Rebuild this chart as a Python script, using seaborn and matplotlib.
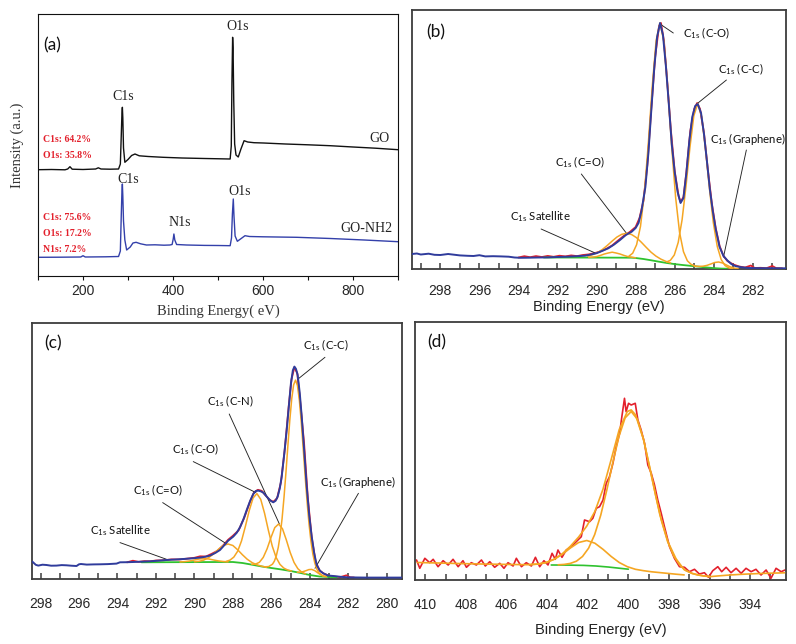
import numpy as np
import pandas as pd
import matplotlib
matplotlib.use("Agg")
import matplotlib.pyplot as plt
from matplotlib.ticker import MultipleLocator
import seaborn as sns

# ---------------- DATA ----------------
# (a) survey spectra
E_go = [100, 130, 160, 166, 171, 176, 200, 228, 234, 240, 260, 279, 283, 285, 286.5, 287.5, 288.5, 290, 293, 300,
        308, 315.5, 325, 345, 378, 420, 470, 527, 529.5, 531, 532.5, 533.5, 535, 537, 540, 545, 551, 558, 566, 580,
        601, 650, 700, 749, 800, 850, 900]
I_go = [106.3, 106.5, 106.2, 107.0, 109.3, 106.8, 106.5, 107.0, 108.2, 107.0, 106.8, 107.0, 112, 140, 162, 168.7,
        158, 128, 113.7, 116.5, 120.5, 122.0, 120.2, 119.5, 118.7, 118.0, 117.5, 117.0, 130, 195, 238.7, 228, 175,
        132, 121, 119, 127, 135.3, 134.0, 133.3, 133.0, 132.0, 131.2, 130.3, 129.0, 127.8, 126.3]
E_nh2 = [100, 150, 195, 200, 205, 250, 279, 283, 285, 286.5, 287.5, 288.5, 290, 293, 297, 305, 311, 318, 328, 341,
         360, 380, 393, 398, 400.5, 402, 404, 408, 430, 470, 500, 527, 530, 532, 534, 535.5, 538, 543, 550, 560,
         570, 600, 675, 750, 825, 900]
I_nh2 = [18.7, 18.8, 19.0, 20.3, 19.0, 19.2, 19.5, 25, 60, 84, 92, 80, 55, 36, 26, 29, 33, 33.7, 32.2, 31.0,
         31.2, 30.8, 31.0, 31.5, 37, 42, 36, 31.5, 31.0, 30.6, 30.5, 30.3, 38, 62, 77, 60, 40, 34.7, 37.0, 40.3,
         39.5, 39.2, 38.7, 37.5, 36.0, 34.3]
pct_go = ["C1s: 64.2%", "O1s: 35.8%"]
pct_nh2 = ["C1s: 75.6%", "O1s: 17.2%", "N1s: 7.2%"]

# (b) GO C1s
E_b_env = [299.45, 299.2, 299.0, 298.6, 298.3, 298.0, 297.6, 297.3, 297.0, 296.6, 296.3, 296.0, 295.7, 295.3, 294.9,
           294.5, 294.2, 293.9, 293.5, 293.0, 292.5, 292.0, 291.5, 291.0, 290.6, 290.3, 290.0, 289.7, 289.4, 289.1,
           288.8, 288.5, 288.2, 288.0, 287.85, 287.7, 287.5, 287.35, 287.2, 287.05, 286.9, 286.75, 286.6, 286.45,
           286.3, 286.15, 286.0, 285.85, 285.7, 285.55, 285.4, 285.25, 285.1, 284.95, 284.82, 284.65, 284.5, 284.35,
           284.2, 284.05, 283.9, 283.7, 283.5, 283.3, 283.1, 282.9, 282.6, 282.2, 281.5, 280.3]
I_b_env = [15, 15.5, 14.5, 15.3, 14.2, 14.0, 15.0, 14.3, 13.6, 13.2, 13.0, 13.8, 12.6, 12.8, 12.6,
           12.3, 11.5, 11.2, 11.3, 11.5, 11.6, 12.0, 12.3, 12.8, 13.3, 14.4, 15.8, 18.2, 20.7, 24.5,
           29.0, 34.0, 37.3, 41.0, 46, 58, 82, 115, 158, 200, 232, 246, 234, 203,
           165, 125, 97, 77, 66, 71, 96, 128, 152, 163, 165, 156, 135, 108,
           80, 58, 40, 22, 13, 8.5, 5, 3, 1.8, 1.0, 0.8, 0.7]
E_b_raw = [294.0, 293.7, 293.4, 293.1, 292.8, 292.5, 292.2, 291.9, 291.6, 291.3, 291.0, 290.7, 290.4, 290.1, 289.8,
           289.5, 289.2, 288.9, 288.6, 288.3, 288.0, 287.8, 287.6, 287.4, 287.2, 287.0, 286.8, 286.7, 286.55, 286.4,
           286.2, 286.0, 285.8, 285.7, 285.55, 285.4, 285.2, 285.0, 284.85, 284.7, 284.5, 284.3, 284.1, 283.9, 283.7,
           283.5, 283.3, 283.0, 282.7, 282.4, 282.1, 281.9, 281.6, 281.3, 281.0, 280.8, 280.5]
I_b_raw = [11.5, 12.8, 11.8, 12.9, 12.0, 13.1, 12.2, 13.3, 12.6, 13.6, 12.9, 14.0, 14.6, 15.9, 17.5,
           20.2, 23.6, 28.5, 33.2, 37.0, 42.0, 51, 68, 104, 160, 212, 243, 246, 228, 192,
           140, 98, 73, 67, 72, 97, 138, 160, 166, 160, 136, 99, 66, 41, 23,
           13, 8, 4.5, 2.5, 1.5, 3.5, 1.0, 1.2, 0.8, 3.0, 0.8, 0.7]
E_b_bg = [292.7, 290.0, 288.2, 288.0, 287.6, 287.2, 286.8, 286.4, 286.0, 285.6, 285.2, 284.8, 284.4, 284.0, 283.6, 283.3]
I_b_bg = [11.5, 11.4, 11.3, 11.0, 10.0, 8.7, 7.3, 6.0, 4.9, 4.0, 3.2, 2.4, 1.6, 0.9, 0.4, 0.3]
E_b_sat = [290.4, 290.2, 290.0, 289.8, 289.6, 289.4, 289.2, 289.0, 288.8, 288.6, 288.4, 288.2, 288.0]
I_b_sat = [11.6, 11.9, 12.4, 13.6, 15.0, 16.0, 16.8, 16.0, 15.0, 13.6, 12.4, 11.8, 11.2]
E_b_co2 = [290.46, 290.21, 289.96, 289.71, 289.46, 289.21, 288.96, 288.71, 288.46, 288.21, 287.96, 287.71, 287.46,
           287.21, 286.96, 286.71, 286.46, 286.21]
I_b_co2 = [12.9, 14.3, 16.3, 19.4, 23.4, 27.8, 31.9, 34.7, 35.7, 34.5, 31.4, 26.8, 21.7, 16.8, 12.9, 9.9, 7.7, 6.1]
E_b_co = [288.35, 288.15, 287.95, 287.75, 287.55, 287.35, 287.15, 286.95, 286.75, 286.55, 286.35, 286.15, 285.95,
          285.75, 285.55, 285.35, 285.15, 284.95]
I_b_co = [12.7, 15.8, 24.3, 42.7, 76.2, 125.5, 182.0, 228.4, 246.1, 227.1, 179.4, 121.6, 71.2, 36.6, 17.3, 8.2, 4.5, 3.1]
E_b_cc = [286.42, 286.22, 286.02, 285.82, 285.62, 285.42, 285.22, 285.02, 284.82, 284.62, 284.42, 284.22, 284.02,
          283.82, 283.62, 283.42, 283.22, 283.02]
I_b_cc = [7.0, 8.7, 14.0, 26.5, 49.3, 83.0, 121.5, 153.2, 165.4, 152.4, 119.9, 80.6, 46.2, 22.6, 9.5, 3.4, 1.0, 0.3]
E_b_gr = [285.0, 284.75, 284.55, 284.35, 284.15, 283.95, 283.75, 283.55, 283.35, 283.15, 282.95, 282.75]
I_b_gr = [2.85, 2.6, 2.8, 3.6, 5.0, 6.5, 7.0, 6.0, 4.0, 2.1, 0.9, 0.3]

# (c) GO-NH2 C1s
E_c_env = [298.43, 298.25, 298.12, 297.9, 297.69, 297.45, 297.17, 296.9, 296.65, 296.4, 296.13, 296.0, 295.9, 295.6,
           295.25, 294.9, 294.5, 294.05, 293.87, 293.5, 293.18, 292.75, 292.31, 291.9, 291.45, 291.0, 290.58, 290.1,
           289.71, 289.45, 289.19, 288.9, 288.67, 288.45, 288.24, 287.98, 287.8, 287.63, 287.45, 287.28, 287.1,
           286.94, 286.8, 286.68, 286.55, 286.42, 286.3, 286.16, 286.03, 285.9, 285.78, 285.67, 285.56, 285.46,
           285.33, 285.2, 285.08, 284.98, 284.88, 284.8, 284.72, 284.63, 284.52, 284.42, 284.3, 284.16, 284.03,
           283.9, 283.77, 283.64, 283.47, 283.3, 283.05, 282.78, 282.4, 282.08, 281.5, 281.04, 280.0, 279.22]
I_c_env = [17.7, 14.5, 13.7, 14.6, 14.3, 13.6, 13.7, 14.2, 14.0, 13.6, 13.3, 15.0, 15.3, 14.7,
           14.9, 15.0, 15.2, 15.7, 17.0, 17.1, 17.3, 17.6, 18.0, 18.6, 19.3, 19.8, 20.3, 21.0,
           21.7, 22.5, 23.7, 26.5, 29.3, 34.0, 38.7, 42.7, 46.5, 52, 60, 69.3, 78.5,
           85.3, 88.3, 88.7, 88.0, 86.7, 84, 81, 78.5, 77, 78.5, 82.7, 91, 102.7,
           125, 149.3, 175, 196, 209, 212.7, 210.5, 204.3, 186, 162.7, 131, 92.7, 64,
           42.7, 26, 14.3, 8.5, 6.0, 3.8, 3.3, 2.5, 2.0, 1.8, 1.7, 1.7, 1.7]
E_c_raw = [293.5, 293.2, 292.9, 292.6, 292.3, 292.0, 291.6, 291.2, 290.8, 290.4, 290.0, 289.7, 289.4, 289.1, 288.8,
           288.5, 288.25, 288.0, 287.7, 287.4, 287.1, 286.9, 286.7, 286.5, 286.3, 286.1, 285.9, 285.7, 285.5, 285.3,
           285.1, 284.95, 284.8, 284.65, 284.5, 284.3, 284.1, 283.9, 283.7, 283.5, 283.3, 283.0, 282.7, 282.4, 282.1,
           281.9, 281.7]
I_c_raw = [17.0, 18.6, 17.4, 18.2, 18.0, 18.8, 19.0, 19.9, 19.8, 20.6, 21.5, 23.0, 22.8, 25.5, 28.5,
           34.0, 39.5, 43.5, 49.0, 62, 78, 87, 89.5, 88.5, 84, 79.5, 77.5, 81, 97, 130,
           172, 200, 212, 206, 178, 137, 81, 42, 18, 9, 6, 3.5, 2.7, 2.2, 4.0,
           1.9, 1.8]
E_c_bg = [292.75, 290.0, 288.0, 287.5, 287.0, 286.5, 286.0, 285.5, 285.0, 284.5, 284.0, 283.5, 283.0, 282.6]
I_c_bg = [17.0, 17.2, 17.3, 16.3, 14.6, 12.8, 11.3, 9.9, 8.3, 6.4, 4.3, 2.8, 2.3, 2.0]
E_c_sat = [290.75, 290.5, 290.25, 290.0, 289.75, 289.5, 289.25, 289.0, 288.75, 288.5, 288.25]
I_c_sat = [17.35, 17.7, 18.3, 19.3, 20.3, 20.7, 20.3, 19.3, 18.4, 17.8, 17.45]
E_c_co2 = [290.0, 289.75, 289.5, 289.25, 289.0, 288.75, 288.5, 288.25, 288.0, 287.75, 287.5, 287.25, 287.0, 286.75,
           286.5, 286.25]
I_c_co2 = [17.5, 18.0, 19.3, 21.8, 25.5, 30.0, 33.8, 35.3, 33.8, 29.5, 24.5, 20.0, 16.7, 14.5, 13.1, 12.1]
E_c_co = [288.35, 288.15, 287.95, 287.75, 287.55, 287.35, 287.15, 286.95, 286.75, 286.55, 286.35, 286.15, 285.95,
          285.75, 285.55, 285.35, 285.15, 284.95]
I_c_co = [17.9, 19.2, 22.2, 28.1, 38.4, 52.9, 68.6, 81.3, 85.7, 79.9, 65.9, 48.7, 33.1, 21.8, 14.9, 11.2, 9.3, 8.3]
E_c_cn = [287.02, 286.82, 286.62, 286.42, 286.22, 286.02, 285.82, 285.62, 285.42, 285.22, 285.02, 284.82, 284.62,
          284.42, 284.22]
I_c_cn = [15.0, 15.2, 17.0, 21.9, 30.5, 41.7, 51.7, 55.3, 50.5, 39.4, 26.9, 16.9, 10.6, 7.2, 5.4]
E_c_cc = [286.34, 286.14, 285.94, 285.84, 285.74, 285.64, 285.54, 285.44, 285.34, 285.24, 285.14, 285.04, 284.94,
          284.84, 284.74, 284.64, 284.54, 284.44, 284.34, 284.24, 284.14, 284.04, 283.94, 283.84, 283.74, 283.64,
          283.54, 283.34, 283.14]
I_c_cc = [12.5, 12.7, 15.1, 18.2, 23.5, 31.8, 44.1, 60.8, 82.0, 106.7, 133.3, 158.9, 180.3,
          194.5, 199.2, 193.7, 178.7, 156.6, 130.2, 102.8, 77.3, 55.4, 38.1, 25.2, 16.3, 10.4,
          6.8, 3.56, 2.6]
E_c_gr = [284.65, 284.5, 284.35, 284.2, 284.05, 283.9, 283.75, 283.6, 283.45, 283.3, 283.15]
I_c_gr = [7.06, 7.1, 7.65, 8.6, 9.7, 9.9, 8.75, 6.65, 4.75, 3.35, 2.66]

# (d) GO-NH2 N1s
E_d_raw = [410.44, 410.28, 410.03, 409.79, 409.62, 409.38, 409.13, 408.88, 408.64, 408.39, 408.15, 407.98, 407.74,
           407.49, 407.24, 407.05, 406.83, 406.59, 406.34, 406.13, 405.93, 405.68, 405.52, 405.27, 405.03, 404.78,
           404.58, 404.37, 404.16, 403.96, 403.76, 403.6, 403.47, 403.27, 403.06, 402.81, 402.57, 402.32, 402.16,
           401.91, 401.75, 401.58, 401.42, 401.25, 401.09, 400.93, 400.76, 400.6, 400.43, 400.32, 400.19, 400.11,
           399.99, 399.86, 399.66, 399.53, 399.37, 399.2, 399.04, 398.87, 398.71, 398.55, 398.38, 398.22, 397.97,
           397.73, 397.48, 397.23, 396.99, 396.74, 396.5, 396.25, 396.05, 395.84, 395.59, 395.4, 395.18, 394.94,
           394.69, 394.44, 394.2, 393.95, 393.71, 393.46, 393.21, 392.97, 392.72, 392.47, 392.28]
I_d_raw = [20, 11.7, 21.7, 17.3, 20.7, 13.3, 19.3, 15, 20.7, 13.3, 19.3, 12.7, 17.3,
           15, 20, 14, 18.3, 12.7, 16.7, 11.7, 17.3, 14, 21.7, 13.3, 17.3, 14,
           22.7, 13.3, 19.3, 15, 26.7, 20.7, 30, 22.7, 30, 33.3, 38.3, 43.3, 60,
           58.3, 61.7, 71.7, 73.3, 80, 96.7, 103.3, 116.7, 133.3, 146.7, 163.3, 181.7, 168.3,
           176.7, 175, 176.7, 160, 150, 136.7, 115, 106.7, 95, 80, 66.7, 53.3, 33.3,
           21.7, 13.3, 12.7, 8.3, 10.7, 6, 7.3, 2.7, 9.3, 13.3, 8.3, 12.7, 7.3,
           11.7, 6.7, 11.7, 8.3, 10.7, 5, 10, 1.7, 11.7, 8.3, 10]
E_d_env = [410.4, 409.0, 408.0, 407.0, 406.0, 405.0, 404.45, 404.05, 403.65, 403.25, 402.85, 402.45, 402.05, 401.65,
           401.25, 400.85, 400.45, 400.05, 399.86, 399.65, 399.25, 398.85, 398.45, 398.05, 397.65, 397.25, 396.86,
           396.56, 396.26, 395.96, 395.5, 395.0, 394.5, 394.0, 393.5, 393.0, 392.3]
I_d_env = [17.5, 16.8, 16.3, 15.9, 15.6, 15.3, 16.0, 17.5, 20.9, 26.3, 33.9, 43.0, 53.9, 68.5,
           90.8, 120.2, 150.4, 168.5, 170.1, 165.3, 140.5, 103.1, 65.6, 38.2, 21.2, 10.3, 6.6,
           5.0, 4.0, 3.4, 4.2, 5.0, 5.6, 6.1, 6.5, 6.8, 7.2]
E_d_n2 = [404.85, 404.45, 404.05, 403.65, 403.25, 402.85, 402.45, 402.05, 401.65, 401.25, 400.85, 400.45, 400.05,
          399.65, 399.25, 398.85, 398.45, 398.05, 397.65, 397.25]
I_d_n2 = [15.3, 15.9, 17.5, 20.7, 25.8, 32.1, 37.5, 39.5, 36.8, 30.7, 23.6, 17.5, 13.3, 10.7, 9.3, 8.2, 7.4, 6.6,
          5.8, 5.1]
E_d_n1 = [403.46, 403.16, 402.86, 402.56, 402.26, 401.96, 401.66, 401.36, 401.06, 400.76, 400.46, 400.16, 399.86,
          399.56, 399.26, 398.96, 398.66, 398.36, 398.06, 397.76, 397.46, 397.16, 396.86, 396.56, 396.26, 395.96]
I_d_n1 = [15.2, 15.6, 16.6, 18.8, 23.5, 31.8, 45.4, 64.9, 90.1, 117.9, 143.8, 162.1, 168.5,
          160.9, 141.2, 114.0, 85.0, 58.7, 38.2, 23.8, 14.7, 9.4, 6.6, 5.0, 4.0, 3.4]
E_d_bg = [403.8, 403.0, 402.2, 401.6, 401.0, 400.5, 400.0]
I_d_bg = [15.0, 14.9, 14.6, 14.0, 13.0, 11.9, 10.8]

# ---------------- STYLE ----------------
sns.set_theme(style="white")
plt.rcParams['font.family'] = ['Liberation Sans', 'DejaVu Sans']
plt.rcParams['mathtext.fontset'] = 'custom'
plt.rcParams['mathtext.rm'] = 'Lato'
plt.rcParams['mathtext.it'] = 'Lato'
plt.rcParams['mathtext.bf'] = 'Lato'

W, H = 796, 644
BLUE = "#303c9c"
ORANGE = "#f5a623"
GREEN = "#2fc22f"
RED = "#e3202c"
SERIF = ['Liberation Serif', 'DejaVu Serif']
ANN = ['Lato', 'DejaVu Sans']


def box(l, t, r, b):
    return [l / W, 1 - b / H, (r - l) / W, (b - t) / H]


def line(ax, x, y, color, lw, z=2):
    sns.lineplot(x=x, y=y, ax=ax, color=color, linewidth=lw, sort=False, estimator=None, zorder=z)


def frame(ax, color="#3d3d3d", lw=1.3):
    for s in ax.spines.values():
        s.set_visible(True)
        s.set_color(color)
        s.set_linewidth(lw)
    ax.set_xlabel("")
    ax.set_ylabel("")
    ax.set_yticks([])


def note(ax, label, tx, ty, p0, p1):
    ax.text(tx, ty, label, fontsize=8.2, family=ANN, ha='left', va='center', color='#111111')
    ax.annotate("", xy=p1, xytext=p0,
                arrowprops=dict(arrowstyle='-', lw=0.65, color='#222222', shrinkA=0, shrinkB=0))


C1 = r"C$_{\mathregular{1s}}$"

fig = plt.figure(figsize=(W / 100, H / 100), dpi=100)
fig.patch.set_facecolor("white")

# ---------- (a) ----------
axA = fig.add_axes(box(38, 14, 398, 276))
line(axA, E_go, I_go, "#111111", 1.0)
line(axA, E_nh2, I_nh2, "#3340aa", 1.0)
axA.set_xlim(100, 900)
axA.set_ylim(0, 262)
frame(axA, color="#111111", lw=0.8)
axA.xaxis.set_major_locator(MultipleLocator(200))
axA.xaxis.set_minor_locator(MultipleLocator(100))
axA.tick_params(axis='x', which='both', direction='out', length=3, width=0.8, color='#111111',
                labelsize=10, pad=2.5, bottom=True)
axA.set_xlabel("Binding Energy( eV)", family=SERIF, fontsize=10.5, color='#333333', labelpad=5)
axA.set_ylabel("Intensity (a.u.)", family=SERIF, fontsize=10.5, color='#333333', labelpad=10)
axA.text(111, 231, "(a)", fontsize=12.5, family=ANN, va='center', ha='left', color='#111111')
sty = dict(family=SERIF, fontsize=10, color='#222222', ha='center', va='center')
axA.text(544, 250, "O1s", **sty)
axA.text(289, 180, "C1s", **sty)
axA.text(860, 138, "GO", **sty)
axA.text(301, 97, "C1s", **sty)
axA.text(416, 53, "N1s", **sty)
axA.text(549, 85, "O1s", **sty)
axA.text(830, 47, "GO-NH2", **sty)
rsty = dict(family=SERIF, fontsize=7, color=RED, fontweight='bold', ha='left', va='center')
for s, yv in zip(pct_go, [136.3, 120.3]):
    axA.text(111, yv, s, **rsty)
for s, yv in zip(pct_nh2, [58.7, 43, 27]):
    axA.text(111, yv, s, **rsty)

# ---------- (b) ----------
axB = fig.add_axes(box(412, 10, 786, 269))
line(axB, E_b_raw, I_b_raw, RED, 1.3, 2)
line(axB, E_b_bg, I_b_bg, GREEN, 1.3, 3)
for ex, iy in [(E_b_sat, I_b_sat), (E_b_co2, I_b_co2), (E_b_co, I_b_co), (E_b_cc, I_b_cc), (E_b_gr, I_b_gr)]:
    line(axB, ex, iy, ORANGE, 1.1, 4)
line(axB, E_b_env, I_b_env, BLUE, 1.4, 5)
axB.set_xlim(299.45, 280.3)
axB.set_ylim(0, 259)
frame(axB)
axB.xaxis.set_major_locator(MultipleLocator(2))
axB.xaxis.set_minor_locator(MultipleLocator(1))
axB.tick_params(axis='x', which='both', direction='in', length=4, width=1.1, color='#3d3d3d',
                labelsize=10, pad=11, bottom=True)
axB.set_xlabel("Binding Energy (eV)", fontsize=10.5, color='#222222', labelpad=1)
axB.text(298.7, 237, "(b)", fontsize=12.5, family=ANN, va='center', ha='left', color='#111111')
note(axB, C1 + " (C-O)", 285.57, 236, (286.07, 236), (286.75, 245))
note(axB, C1 + " (C-C)", 283.77, 200, (283.35, 189), (284.87, 165))
note(axB, C1 + " (Graphene)", 284.18, 130, (282.33, 119), (283.5, 12))
note(axB, C1 + " (C=O)", 292.12, 107, (290.78, 95), (288.48, 36))
note(axB, C1 + " Satellite", 294.43, 52, (292.84, 40), (290.07, 16))

# ---------- (c) ----------
axC = fig.add_axes(box(32.3, 322.7, 401.7, 579.3))
line(axC, E_c_raw, I_c_raw, RED, 1.3, 2)
line(axC, E_c_bg, I_c_bg, GREEN, 1.3, 3)
for ex, iy in [(E_c_sat, I_c_sat), (E_c_co2, I_c_co2), (E_c_co, I_c_co), (E_c_cn, I_c_cn), (E_c_cc, I_c_cc),
               (E_c_gr, I_c_gr)]:
    line(axC, ex, iy, ORANGE, 1.1, 4)
line(axC, E_c_env, I_c_env, BLUE, 1.4, 5)
axC.set_xlim(298.43, 279.22)
axC.set_ylim(0, 256.6)
frame(axC)
axC.xaxis.set_major_locator(MultipleLocator(2))
axC.xaxis.set_minor_locator(MultipleLocator(1))
axC.tick_params(axis='x', which='both', direction='in', length=4, width=1.1, color='#3d3d3d',
                labelsize=10, pad=13, bottom=True)
axC.text(297.8, 236, "(c)", fontsize=12.5, family=ANN, va='center', ha='left', color='#111111')
note(axC, C1 + " (C-C)", 284.34, 234.3, (283.21, 222), (284.63, 200))
note(axC, C1 + " (C-N)", 289.36, 177.7, (288.19, 165.3), (285.58, 55.3))
note(axC, C1 + " (C-O)", 291.19, 130, (290.06, 117.7), (286.8, 86.7))
note(axC, C1 + " (C=O)", 293.18, 89.3, (291.65, 76.7), (288.32, 35.3))
note(axC, C1 + " Satellite", 295.43, 48.7, (293.87, 36.7), (291.45, 20))
note(axC, C1 + " (Graphene)", 283.47, 97, (281.47, 86), (283.73, 11))

# ---------- (d) ----------
axD = fig.add_axes(box(414.7, 321.7, 786, 580))
line(axD, E_d_raw, I_d_raw, RED, 1.2, 2)
line(axD, E_d_bg, I_d_bg, GREEN, 1.2, 3)
line(axD, E_d_n2, I_d_n2, ORANGE, 1.2, 4)
line(axD, E_d_n1, I_d_n1, ORANGE, 1.2, 4)
line(axD, E_d_env, I_d_env, ORANGE, 1.2, 4)
axD.set_xlim(410.53, 392.23)
axD.set_ylim(0, 258.3)
frame(axD)
axD.xaxis.set_major_locator(MultipleLocator(2))
axD.xaxis.set_minor_locator(MultipleLocator(1))
axD.tick_params(axis='x', which='both', direction='in', length=4, width=1.1, color='#3d3d3d',
                labelsize=10, pad=13, bottom=True)
axD.set_xlabel("Binding Energy (eV)", fontsize=10.5, color='#222222', labelpad=8)
axD.text(409.9, 238, "(d)", fontsize=12.5, family=ANN, va='center', ha='left', color='#111111')

fig.savefig("out.png", dpi=100, facecolor="white")
